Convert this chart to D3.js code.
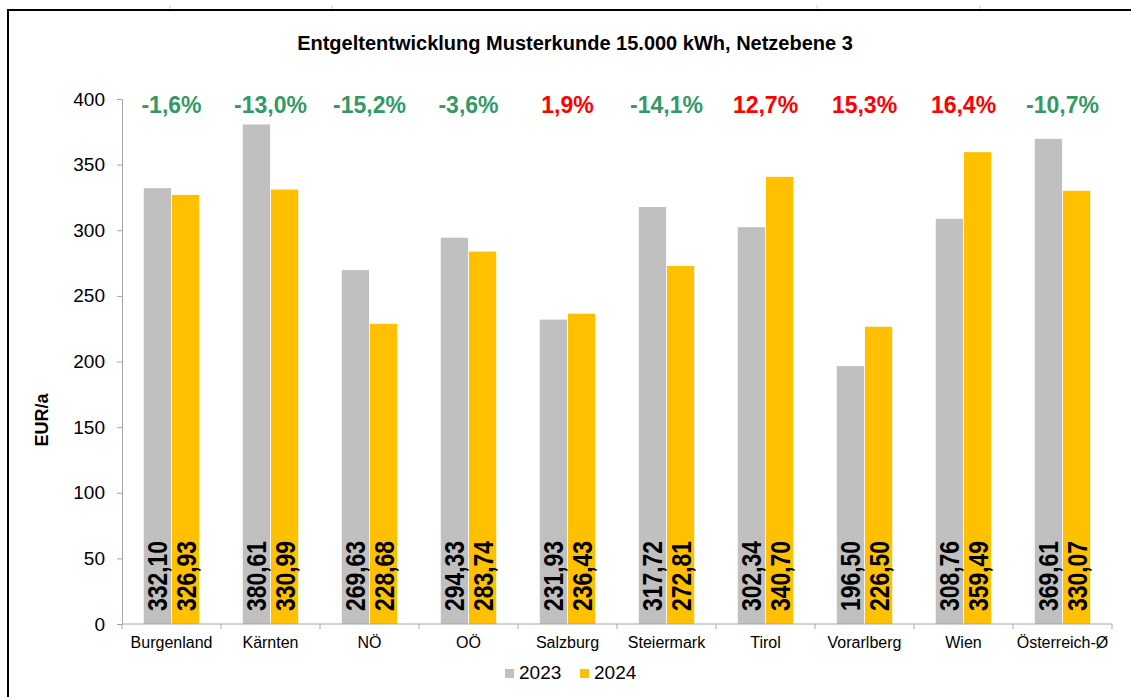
<!DOCTYPE html>
<html>
<head>
<meta charset="utf-8">
<script src="https://cdn.jsdelivr.net/npm/d3@7"></script>
<style>
  body { margin: 0; background: #fff; }
  svg { display: block; font-family: "Liberation Sans", Arial, sans-serif; }
</style>
</head>
<body>
<div id="chart"></div>
<script>
// Entgeltentwicklung Musterkunde 15.000 kWh, Netzebene 3

const categories = ["Burgenland", "Kärnten", "NÖ", "OÖ", "Salzburg", "Steiermark",
  "Tirol", "Vorarlberg", "Wien", "Österreich-Ø"];
const years = ["2023", "2024"];
const values2023 = [332.10, 380.61, 269.63, 294.33, 231.93, 317.72, 302.34, 196.50, 308.76, 369.61];
const values2024 = [326.93, 330.99, 228.68, 283.74, 236.43, 272.81, 340.70, 226.50, 359.49, 330.07];
const changes = [-1.6, -13.0, -15.2, -3.6, 1.9, -14.1, 12.7, 15.3, 16.4, -10.7];
const yTicks = [0, 50, 100, 150, 200, 250, 300, 350, 400];

const colors = { "2023": "#c0c0c0", "2024": "#ffc000" };
const fmt = v => v.toFixed(2).replace(".", ",");
const fmtPct = v => v.toFixed(1).replace(".", ",") + "%";

const W = 1131, H = 697;
const pL = 122, pR = 19, pT = 99, pB = 73; // plot padding

const svg = d3.select("#chart").
append("svg").
attr("width", W).
attr("height", H);

// Outer frame (runs past right/bottom edge like the screenshot)
svg.append("rect").
attr("x", 8).attr("y", 10).
attr("width", 1200).attr("height", 800).
attr("fill", "none").
attr("stroke", "#000").
attr("stroke-width", 2);

// faint spreadsheet grid stubs above the frame
svg.selectAll(".stub").
data([170, 332, 817, 980]).
join("line").
attr("x1", d => d).attr("x2", d => d).
attr("y1", 5).attr("y2", 9).
attr("stroke", "#d4d4d4");

// Scales
const x = d3.scaleBand().
domain(categories).
range([pL, W - pR]);

const bw = x.bandwidth();

const xSub = d3.scaleBand().
domain(years).
range([bw * 0.22, bw * 0.78]).
paddingInner(0.03);

const y = d3.scaleLinear().
domain([0, 400]).
range([H - pB, pT]);

// Title
svg.append("text").
attr("x", 575).
attr("y", 50).
attr("text-anchor", "middle").
attr("font-size", 20).
attr("font-weight", "bold").
text("Entgeltentwicklung Musterkunde 15.000 kWh, Netzebene 3");

// Y axis
const yAxis = svg.append("g").
attr("transform", `translate(${pL} 0)`).
call(d3.axisLeft(y).tickValues(yTicks).tickSize(5).tickSizeOuter(0).tickPadding(12));

yAxis.selectAll("path, line").attr("stroke", "#a6a6a6");
yAxis.selectAll("text").
attr("font-size", 19).
attr("font-family", "Liberation Sans, Arial, sans-serif").
attr("fill", "#000");

svg.append("text").
attr("transform", `translate(48 420) rotate(-90)`).
attr("text-anchor", "middle").
attr("font-size", 18).
attr("font-weight", "bold").
text("EUR/a");

// Bars
const rows = categories.map((c, i) => ({
  cat: c,
  change: changes[i],
  vals: [
    { year: "2023", v: values2023[i] },
    { year: "2024", v: values2024[i] }
  ]
}));

const groups = svg.selectAll(".grp").
data(rows).
join("g").
attr("class", "grp").
attr("transform", d => `translate(${x(d.cat)} 0)`);

groups.selectAll("rect").
data(d => d.vals).
join("rect").
attr("x", d => xSub(d.year)).
attr("y", d => y(d.v)).
attr("width", xSub.bandwidth()).
attr("height", d => y(0) - y(d.v)).
attr("fill", d => colors[d.year]);

// Value labels, rotated, at bar foot
groups.selectAll(".val").
data(d => d.vals).
join("text").
attr("class", "val").
attr("transform", d => `translate(${xSub(d.year) + xSub.bandwidth() / 2 + 10} ${y(0) - 13}) rotate(-90)`).
attr("font-size", 27).
attr("font-weight", "bold").
attr("font-family", "'Liberation Sans Narrow', 'Liberation Sans', Arial, sans-serif").
attr("textLength", 70).
attr("lengthAdjust", "spacingAndGlyphs").
attr("fill", "#000").
text(d => fmt(d.v));

// Change labels
groups.append("text").
attr("x", bw / 2).
attr("y", 113).
attr("text-anchor", "middle").
attr("font-size", 23).
attr("font-weight", "bold").
attr("fill", d => d.change < 0 ? "#339966" : "#ff0000").
text(d => fmtPct(d.change));

// X axis
const xAxisG = svg.append("g").
attr("transform", `translate(0 ${y(0)})`);

xAxisG.append("line").
attr("x1", pL).attr("x2", W - pR).
attr("stroke", "#a6a6a6");

const bounds = categories.map(c => x(c)).concat([x(categories[categories.length - 1]) + bw]);
xAxisG.selectAll(".btick").
data(bounds).
join("line").
attr("x1", d => d).attr("x2", d => d).
attr("y1", 0).attr("y2", 5).
attr("stroke", "#a6a6a6");

xAxisG.selectAll(".lbl").
data(categories).
join("text").
attr("x", d => x(d) + bw / 2).
attr("y", 24).
attr("text-anchor", "middle").
attr("font-size", 16).
text(d => d);

// Legend
const legend = svg.append("g").
attr("transform", "translate(505 669)");

const legendX = d3.scaleOrdinal().domain(years).range([0, 75]);

const li = legend.selectAll("g").
data(years).
join("g").
attr("transform", d => `translate(${legendX(d)} 0)`);

li.append("rect").
attr("width", 9).attr("height", 9).
attr("fill", d => colors[d]);

li.append("text").
attr("x", 14).
attr("y", 10).
attr("font-size", 19).
text(d => d);
</script>
</body>
</html>
